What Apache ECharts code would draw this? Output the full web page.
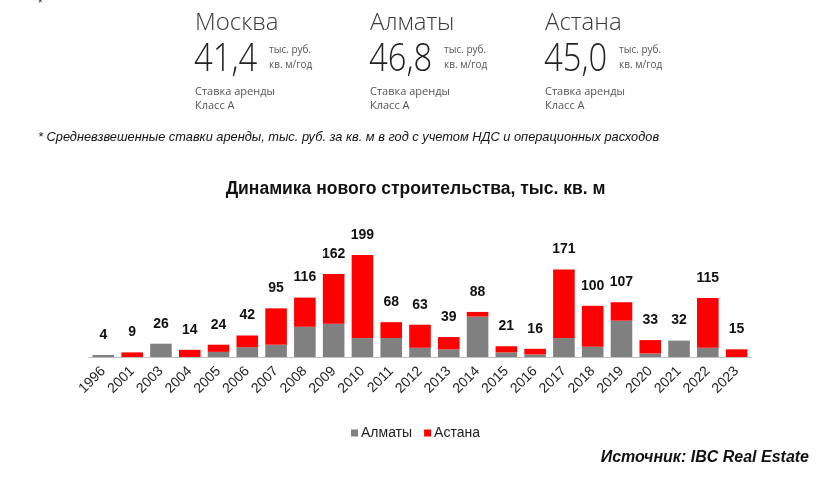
<!DOCTYPE html>
<html>
<head>
<meta charset="utf-8">
<script src="https://cdn.jsdelivr.net/npm/echarts@6/dist/echarts.min.js"></script>
<style>
html, body { margin: 0; padding: 0; background: #fff; }
#main { width: 831px; height: 483px; }
</style>
</head>
<body>
<div id="main"></div>
<script>
// годы и ввод по городам, тыс. кв. м
var years = ["1996","2001","2003","2004","2005","2006","2007","2008","2009","2010","2011","2012","2013","2014","2015","2016","2017","2018","2019","2020","2021","2022","2023"];
var almaty = [4,0,26,0,10,19,24,59,65,37,37,18,15,79,9,5,37,20,71,7,32,18,0];
var astana = [0,9,0,14,14,23,71,57,97,162,31,45,24,9,12,11,134,80,36,26,0,97,15];
var totals = [4,9,26,14,24,42,95,116,162,199,68,63,39,88,21,16,171,100,107,33,32,115,15];

// ставки аренды (шапка)
var cities = ["Москва","Алматы","Астана"];
var rates = ["41,4","46,8","45,0"];

var myChart = echarts.init(document.getElementById("main"));

var light = "'Open Sans', 'Noto Sans', sans-serif";
var head = [];
cities.forEach(function (c, i) {
  var x = 195 + i * 175;
  head.push({ type: "text", x: x, y: 11, style: { text: c, font: "300 24px " + light, fill: "#3a3a3a" } });
  head.push({ type: "text", x: x - 1, y: 40, scaleX: 0.84, style: { text: rates[i], font: "300 39px " + light, fill: "#222" } });
  head.push({ type: "text", x: x + 74, y: 43, style: { text: "тыс. руб.\nкв. м/год", font: "10px " + light, lineHeight: 15, fill: "#555" } });
  head.push({ type: "text", x: x, y: 85, style: { text: "Ставка аренды\nКласс А", font: "11px " + light, lineHeight: 14, fill: "#555" } });
});
head.push({ type: "text", x: 38, y: -2, style: { text: "*", font: "12px Arial", fill: "#333" } });
head.push({ type: "text", x: 38, y: 131, style: { text: "* Средневзвешенные ставки аренды, тыс. руб. за кв. м в год с учетом НДС и операционных расходов", font: "italic 12.8px 'Liberation Sans', Arial", fill: "#111" } });
head.push({ type: "text", right: 22, top: 450, style: { text: "Источник: IBC Real Estate", font: "italic bold 16px 'Liberation Sans', Arial", fill: "#111" } });

myChart.setOption({
  backgroundColor: "#fff",
  animation: false,
  title: {
    text: "Динамика нового строительства, тыс. кв. м",
    left: "center",
    top: 175,
    textStyle: { fontFamily: "'Liberation Sans', Arial", fontWeight: "bold", fontSize: 17.5, color: "#111" }
  },
  graphic: head,
  legend: {
    top: 421,
    left: "center",
    itemWidth: 7,
    itemHeight: 7,
    itemGap: 12,
    icon: "rect",
    data: ["Алматы", "Астана"],
    textStyle: { fontFamily: "'Liberation Sans', Arial", fontSize: 14, color: "#222", padding: [0, 0, 0, -2] }
  },
  grid: { left: 89, right: 80, top: 229, bottom: 126 },
  xAxis: {
    type: "category",
    data: years,
    axisLine: { lineStyle: { color: "#bfbfbf" } },
    axisTick: { show: false },
    axisLabel: { rotate: 45, margin: 12, fontFamily: "'Liberation Sans', Arial", fontSize: 14, color: "#222" }
  },
  yAxis: { type: "value", min: 0, max: 250, show: false, splitLine: { show: false } },
  series: [
    {
      name: "Алматы", type: "bar", stack: "t", data: almaty,
      barCategoryGap: "25%",
      itemStyle: { color: "#808080" }
    },
    {
      name: "Астана", type: "bar", stack: "t", data: astana,
      itemStyle: { color: "#ff0000" },
      label: {
        show: true, position: "top", distance: 13,
        fontFamily: "'Liberation Sans', Arial", fontWeight: "bold", fontSize: 14, color: "#111",
        formatter: function (p) { return totals[p.dataIndex]; }
      }
    }
  ]
});
</script>
</body>
</html>
